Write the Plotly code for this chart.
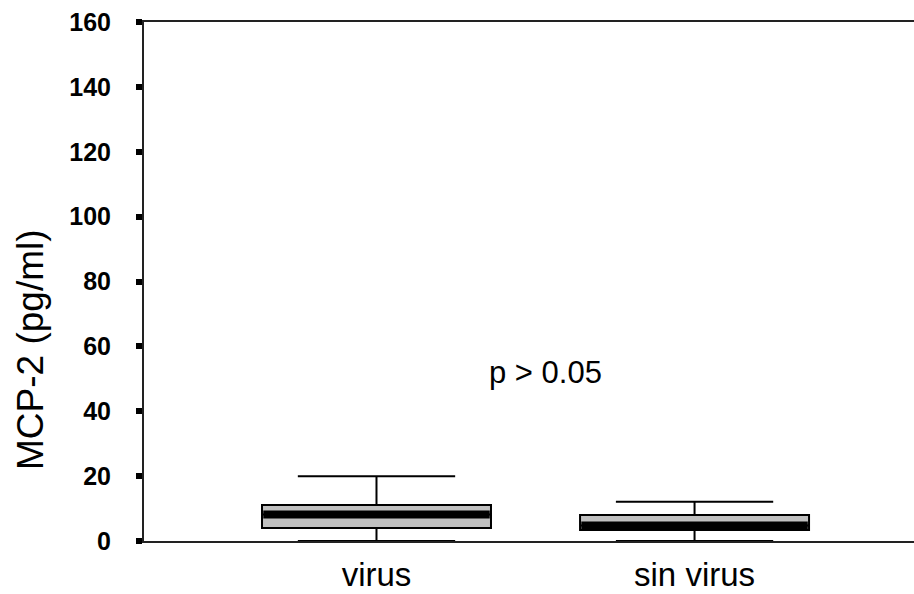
import plotly.graph_objects as go

# Box-plot summary of MCP-2 concentrations per group
categories = ["virus", "sin virus"]
lower_fence = [0, 0]
q1 = [4.0, 3.4]
median = [8.2, 4.8]
q3 = [11.1, 8.0]
upper_fence = [20, 12.1]

y_ticks = [0, 20, 40, 60, 80, 100, 120, 140, 160]
p_label = "p > 0.05"

positions = [1, 2]
box_width = 0.72
median_width = 8

FONT = "Liberation Sans, Arial, sans-serif"

fig = go.Figure()

for pos, lo, a, m, b, hi in zip(positions, lower_fence, q1, median, q3, upper_fence):
    fig.add_trace(go.Box(
        x=[pos],
        lowerfence=[lo], q1=[a], median=[m], q3=[b], upperfence=[hi],
        width=box_width,
        whiskerwidth=0.687,
        fillcolor="#c0c0c0",
        line=dict(color="#000000", width=2),
        boxpoints=False,
        showlegend=False,
    ))

# thick median bars across each box
for pos, m in zip(positions, median):
    fig.add_trace(go.Scatter(
        x=[pos - box_width / 2 + 0.004, pos + box_width / 2 - 0.004],
        y=[m, m],
        mode="lines",
        line=dict(color="#000000", width=median_width),
        showlegend=False,
        hoverinfo="skip",
    ))

fig.add_annotation(
    x=1.53, y=52, xref="x", yref="y",
    text=p_label, showarrow=False,
    font=dict(family=FONT, size=31, color="#000000"),
)

fig.add_annotation(
    x=(30 - 144) / 770, y=(541 - 350) / 519, xref="paper", yref="paper",
    text="MCP-2 (pg/ml)", textangle=-90, showarrow=False,
    xanchor="center", yanchor="middle",
    font=dict(family=FONT, size=37, color="#000000"),
)

fig.update_layout(
    width=914, height=594,
    margin=dict(l=144, r=0, t=22, b=53, autoexpand=False),
    paper_bgcolor="#ffffff",
    plot_bgcolor="#ffffff",
    xaxis=dict(
        range=[0.269, 2.690],
        tickvals=positions,
        ticktext=categories,
        showgrid=False, zeroline=False,
        showline=True, linecolor="#222222", linewidth=2, mirror=True,
        ticks="",
        automargin=False,
        ticklabelstandoff=3,
        tickfont=dict(family=FONT, size=33, color="#000000"),
    ),
    yaxis=dict(
        range=[0, 160],
        tickvals=y_ticks,
        showgrid=False, zeroline=False,
        showline=True, linecolor="#222222", linewidth=2,
        ticks="outside", ticklen=6, tickwidth=6, tickcolor="#000000",
        automargin=False,
        ticklabelstandoff=20,
        tickfont=dict(family=FONT, size=25, color="#000000", weight="bold"),
    ),
)

fig.write_html("out.html")
